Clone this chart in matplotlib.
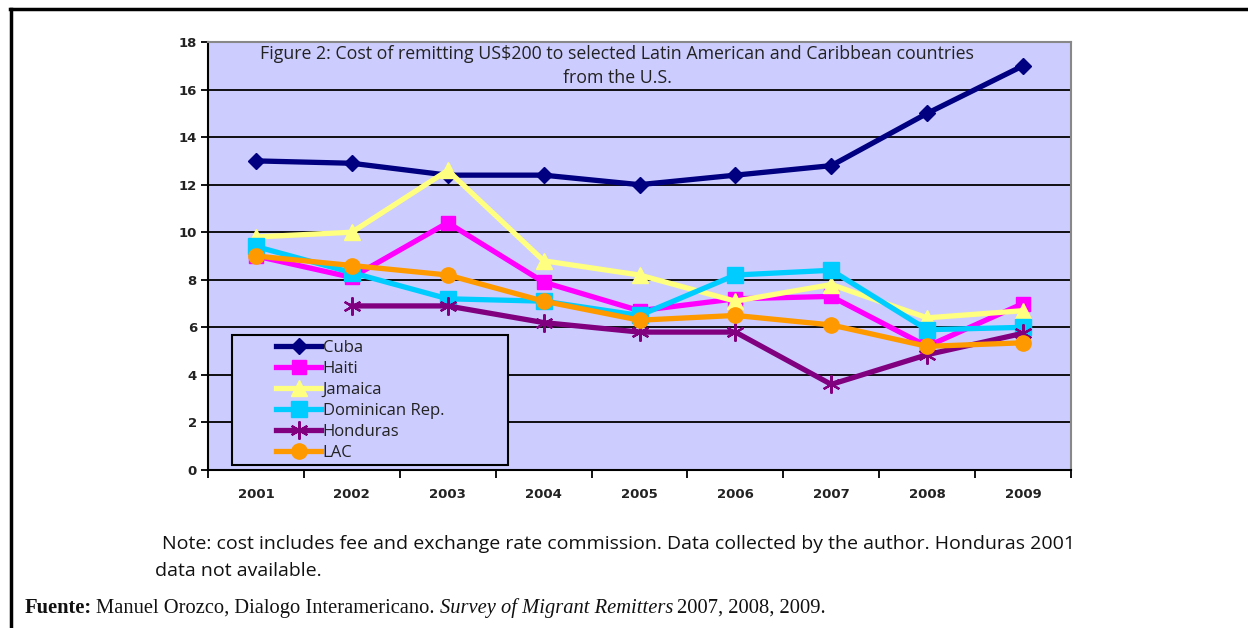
import matplotlib
matplotlib.use("Agg")
import matplotlib.pyplot as plt
from matplotlib.lines import Line2D
from matplotlib.patches import Rectangle
import numpy as np

years = ["2001", "2002", "2003", "2004", "2005", "2006", "2007", "2008", "2009"]
cuba = [13.0, 12.9, 12.4, 12.4, 12.0, 12.4, 12.8, 15.0, 17.0]
haiti = [9.0, 8.1, 10.4, 7.9, 6.7, 7.2, 7.3, 5.2, 7.0]
jamaica = [9.8, 10.0, 12.6, 8.8, 8.2, 7.1, 7.8, 6.4, 6.7]
dominican = [9.4, 8.3, 7.2, 7.1, 6.5, 8.2, 8.4, 5.9, 6.0]
honduras = [np.nan, 6.9, 6.9, 6.2, 5.8, 5.8, 3.6, 4.85, 5.75]
lac = [9.0, 8.6, 8.2, 7.1, 6.3, 6.5, 6.1, 5.2, 5.35]
yticks = [0, 2, 4, 6, 8, 10, 12, 14, 16, 18]

W, H = 1248, 628
fig = plt.figure(figsize=(W/100, H/100), dpi=100)
L, R, T, B = 208, 1071, 42, 470
ax = fig.add_axes([L/W, 1-B/H, (R-L)/W, (B-T)/H])
ax.set_facecolor("#CCCCFF")

def axx(px):
    return (px - L) / (R - L)

def axy(py):
    return (B - py) / (B - T)

x = np.arange(len(years))
series = [
    ("Cuba", cuba, "#000080", "D", 8),
    ("Haiti", haiti, "#FF00FF", "s", 10),
    ("Jamaica", jamaica, "#FFFF80", "^", 11),
    ("Dominican Rep.", dominican, "#00CCFF", "s", 11),
    ("Honduras", honduras, "#800080", (6, 2, 0), 13),
    ("LAC", lac, "#FF9900", "o", 11),
]
handles = []
for name, vals, col, mk, ms in series:
    if name == "Honduras":
        ax.plot(x, vals, color=col, lw=3.8, zorder=3)
        ax.plot(x, vals, color=col, lw=0, marker=mk, ms=ms,
                markeredgewidth=1.6, markeredgecolor=col, zorder=3)
        lh = Line2D([], [], color=col, lw=3.8, marker=mk, ms=ms,
                    markeredgewidth=1.6, markeredgecolor=col)
    else:
        lh, = ax.plot(x, vals, color=col, lw=3.8, marker=mk, ms=ms,
                      markeredgecolor=col, zorder=3)
    handles.append((lh, name))

ax.set_xlim(-0.5, len(years) - 0.5)
ax.set_ylim(0, 18)
ax.set_yticks(yticks)
ax.set_yticklabels([str(v) for v in yticks])
ax.yaxis.grid(True, color="black", lw=1.3)
ax.set_axisbelow(True)

ax.set_xticks(x)
ax.set_xticklabels(years)
ax.set_xticks(np.arange(-0.5, len(years), 1), minor=True)
ax.tick_params(axis="x", which="major", length=0, pad=13)
ax.tick_params(axis="x", which="minor", length=6, width=1.3, color="black", direction="out")
ax.tick_params(axis="y", length=5, width=1.3, direction="out", pad=3)
for lab in ax.get_xticklabels() + ax.get_yticklabels():
    lab.set_fontsize(9.5)
    lab.set_fontweight("bold")
    lab.set_color("#222222")
    lab.set_family("DejaVu Sans")

ax.spines["left"].set_color("black")
ax.spines["left"].set_linewidth(1.5)
ax.spines["bottom"].set_color("black")
ax.spines["bottom"].set_linewidth(1.5)
ax.spines["right"].set_color("#888888")
ax.spines["right"].set_linewidth(1.5)
ax.spines["top"].set_color("#888888")
ax.spines["top"].set_linewidth(1.5)

# Title inside plot
ax.text(axx(617), axy(54),
        "Figure 2: Cost of remitting US$200 to selected Latin American and Caribbean countries",
        transform=ax.transAxes, ha="center", va="center", fontsize=12.8,
        family="Open Sans", color="#222222", zorder=6)
ax.text(axx(617), axy(78), "from the U.S.",
        transform=ax.transAxes, ha="center", va="center", fontsize=12.8,
        family="Open Sans", color="#222222", zorder=6)

# Legend frame
ax.add_patch(Rectangle((axx(232), axy(465)), axx(508) - axx(232), axy(335) - axy(465),
                       transform=ax.transAxes, facecolor="#CCCCFF", edgecolor="black",
                       lw=1.5, zorder=5))
leg = ax.legend([h for h, _ in handles], [n for _, n in handles],
                loc="upper left", bbox_to_anchor=(axx(276), axy(340)),
                frameon=False, prop={"family": "Open Sans", "size": 12},
                handlelength=2.7, handletextpad=0.1, labelspacing=0.3,
                borderpad=0, borderaxespad=0)
for t in leg.get_texts():
    t.set_color("#222222")
leg.set_zorder(6)

# Notes
fig.text(162/W, 1-544/H,
         "Note: cost includes fee and exchange rate commission. Data collected by the author. Honduras 2001",
         ha="left", va="center", fontsize=14, family="Open Sans", color="#111111")
fig.text(155/W, 1-571/H, "data not available.",
         ha="left", va="center", fontsize=14, family="Open Sans", color="#111111")

# Source line with mixed styles
y_src = 1 - 608/H
fs = 14.8
t1 = fig.text(25/W, y_src, "Fuente:", ha="left", va="center", fontsize=fs,
              family="Liberation Serif", weight="bold", color="#111111")
fig.canvas.draw()
r = fig.canvas.get_renderer()
bb = t1.get_window_extent(r)
t2 = fig.text(bb.x1/W + 0.003, y_src, "Manuel Orozco, Dialogo Interamericano. ",
              ha="left", va="center", fontsize=fs, family="Liberation Serif", color="#111111")
bb = t2.get_window_extent(r)
t3 = fig.text(bb.x1/W, y_src, "Survey of Migrant Remitters",
              ha="left", va="center", fontsize=fs, family="Liberation Serif", style="italic", color="#111111")
bb = t3.get_window_extent(r)
fig.text(bb.x1/W + 0.003, y_src, "2007, 2008, 2009.",
         ha="left", va="center", fontsize=fs, family="Liberation Serif", color="#111111")

# Outer frame lines
fig.add_artist(Line2D([10/W, 1.0], [1-9/H, 1-9/H], color="black", lw=2.5, transform=fig.transFigure))
fig.add_artist(Line2D([11/W, 11/W], [0.0, 1-9/H], color="black", lw=2.5, transform=fig.transFigure))

fig.savefig("out.png", dpi=100, facecolor="white")
